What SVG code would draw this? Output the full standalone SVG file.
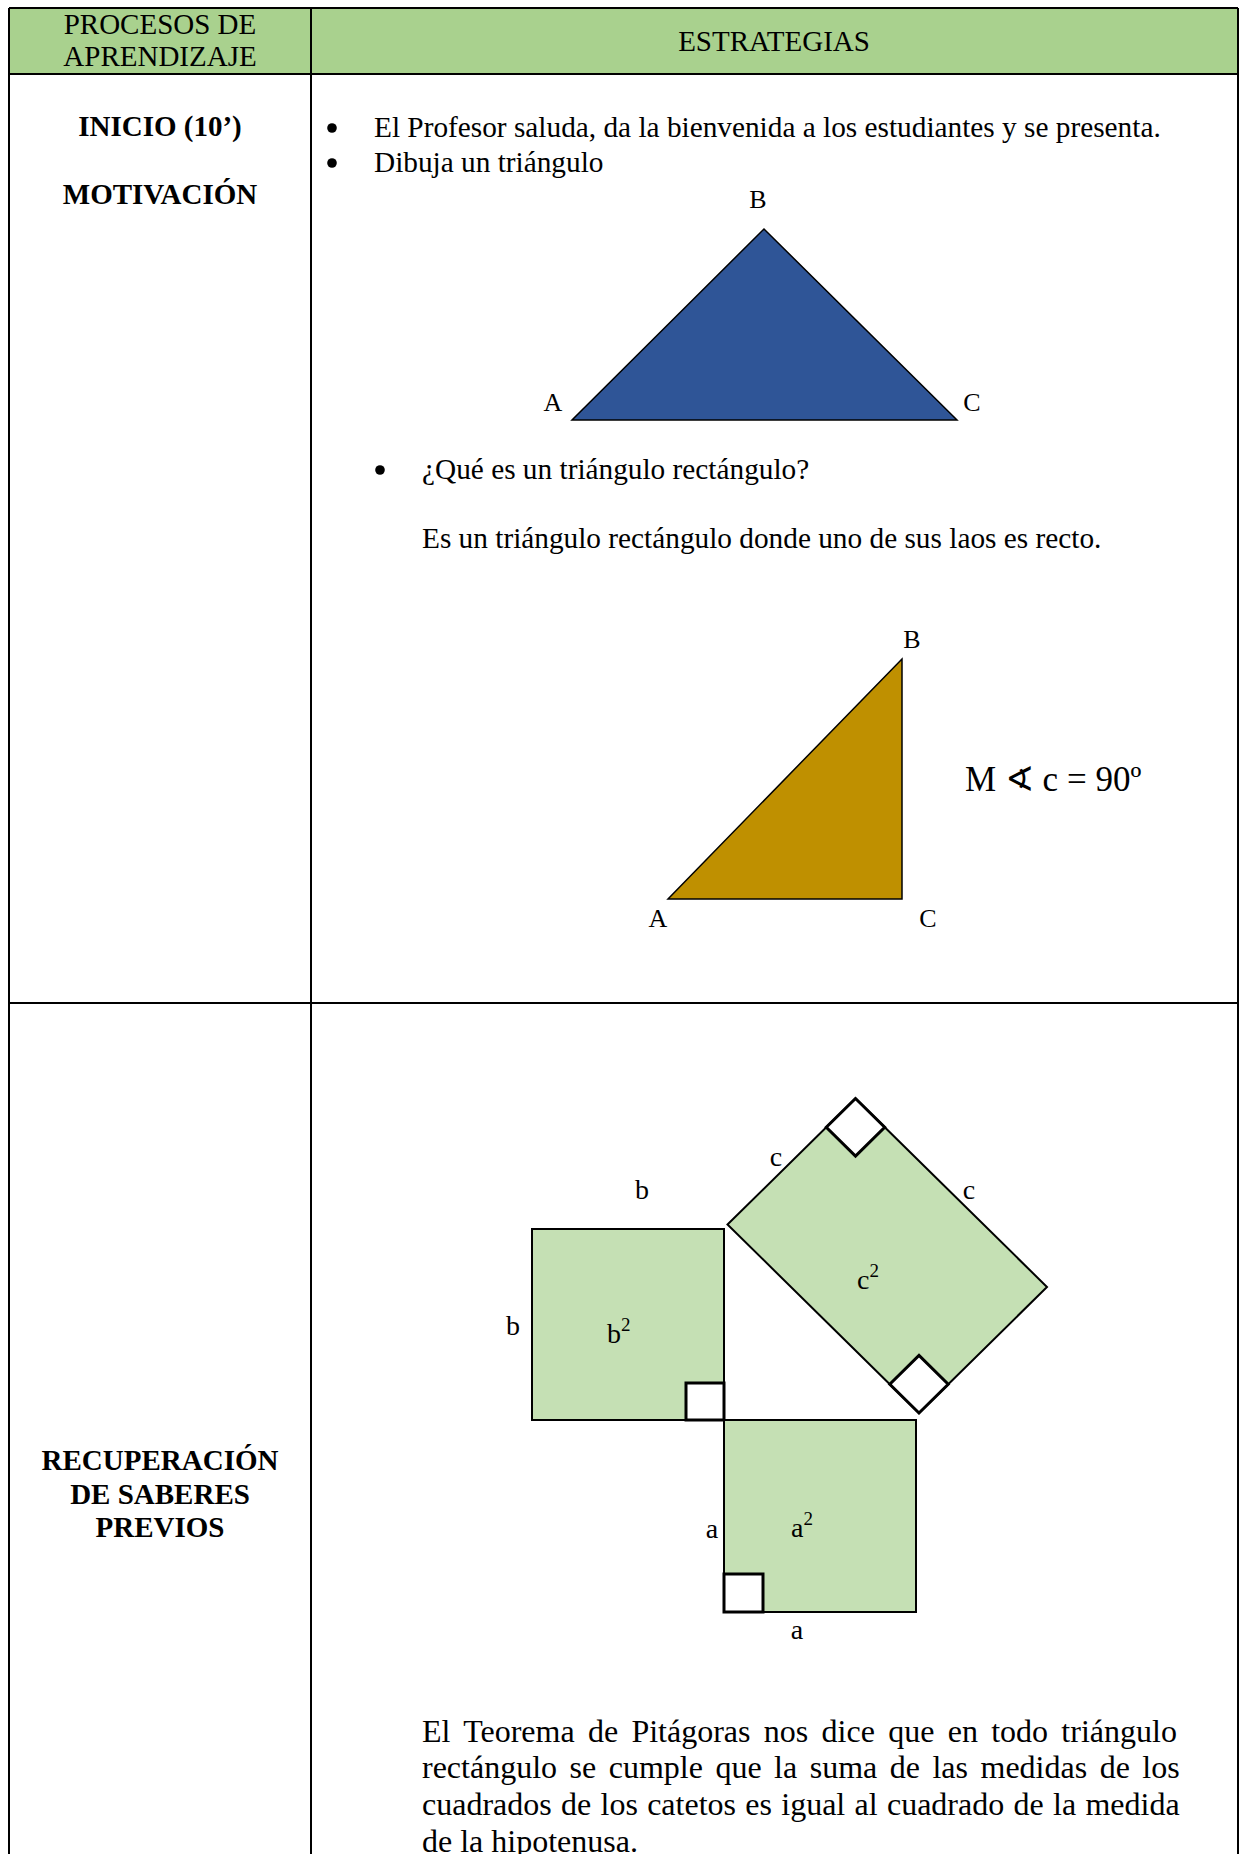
<svg xmlns="http://www.w3.org/2000/svg" width="1244" height="1854" viewBox="0 0 1244 1854">
<style>
text{font-family:"Liberation Serif","Times New Roman","DejaVu Serif",serif;fill:#000}
.h{font-size:29px}
.b{font-size:29px;font-weight:bold}
.t{font-size:29.3px}
.p{font-size:32px}
.lbl{font-size:26px}
.fl{font-size:28px}
.sup{font-size:19px}
.c{text-anchor:middle}
.grid{stroke:#000;stroke-width:2;fill:none}
.sq{fill:#C5E0B4;stroke:#000;stroke-width:2}
.mk{fill:#fff;stroke:#000;stroke-width:3}
.dot{fill:#000}
</style>
<rect x="0" y="0" width="1244" height="1854" fill="#fff"/>
<g id="table">
  <rect x="9" y="8" width="1229" height="66" fill="#A9D18E"/>
  <line class="grid" x1="9" y1="8" x2="1238" y2="8"/>
  <line class="grid" x1="9" y1="74" x2="1238" y2="74"/>
  <line class="grid" x1="9" y1="8" x2="9" y2="1854"/>
  <line class="grid" x1="1238" y1="8" x2="1238" y2="1854"/>
  <line class="grid" x1="311" y1="8" x2="311" y2="1854"/>
  <line class="grid" x1="9" y1="1003" x2="1238" y2="1003" stroke-width="3"/>
</g>
<g id="header">
  <text class="h c" x="160" y="34">PROCESOS DE</text>
  <text class="h c" x="160" y="66">APRENDIZAJE</text>
  <text class="h c" x="774" y="51">ESTRATEGIAS</text>
</g>
<g id="row-inicio-label">
  <text class="b c" x="160" y="136">INICIO (10’)</text>
  <text class="b c" x="160" y="204">MOTIVACIÓN</text>
</g>
<g id="row-inicio-content">
  <circle class="dot" cx="332" cy="128" r="4.8"/>
  <text class="t" x="374" y="137">El Profesor saluda, da la bienvenida a los estudiantes y se presenta.</text>
  <circle class="dot" cx="332" cy="163" r="4.8"/>
  <text class="t" x="374" y="172">Dibuja un triángulo</text>
</g>
<g id="blue-triangle">
  <polygon points="764,229 572,420 957,420" fill="#2F5597" stroke="#000" stroke-width="1.5"/>
  <text class="lbl c" x="758" y="208">B</text>
  <text class="lbl c" x="553" y="411">A</text>
  <text class="lbl c" x="972" y="411">C</text>
</g>
<g id="question">
  <circle class="dot" cx="380" cy="470" r="4.8"/>
  <text class="t" x="422" y="479">¿Qué es un triángulo rectángulo?</text>
  <text class="t" x="422" y="548">Es un triángulo rectángulo donde uno de sus laos es recto.</text>
</g>
<g id="gold-triangle">
  <polygon points="902,659 668,899 902,899" fill="#BF9000" stroke="#000" stroke-width="1.5"/>
  <text class="lbl c" x="912" y="648">B</text>
  <text class="lbl c" x="658" y="927">A</text>
  <text class="lbl c" x="928" y="927">C</text>
  <text x="965" y="791" style="font-size:35px">M ∢ c = 90º</text>
</g>
<g id="row-recuperacion-label">
  <text class="b c" x="160" y="1470">RECUPERACIÓN</text>
  <text class="b c" x="160" y="1504">DE SABERES</text>
  <text class="b c" x="160" y="1537">PREVIOS</text>
</g>
<g id="square-b">
  <rect class="sq" x="532" y="1229" width="192" height="191"/>
  <rect class="mk" x="686" y="1383" width="38" height="37"/>
  <text class="fl c" x="642" y="1199">b</text>
  <text class="fl c" x="513" y="1335">b</text>
  <text class="fl" x="607" y="1343">b<tspan class="sup" dy="-12">2</tspan></text>
</g>
<g id="square-a">
  <rect class="sq" x="724" y="1420" width="192" height="192"/>
  <rect class="mk" x="724" y="1574" width="39" height="38"/>
  <text class="fl c" x="712" y="1538">a</text>
  <text class="fl" x="791" y="1537">a<tspan class="sup" dy="-12">2</tspan></text>
  <text class="fl c" x="797" y="1639">a</text>
</g>
<g id="square-c">
  <polygon class="sq" points="727.5,1224.5 855.5,1098.5 1047,1287 919,1413" stroke-width="1.8"/>
  <polygon class="mk" points="855.5,1098.5 826.3,1127.3 855.5,1156.1 884.7,1127.3"/>
  <polygon class="mk" points="919,1413 889.8,1384.2 919,1355.4 948.2,1384.2"/>
  <text class="fl c" x="776" y="1166">c</text>
  <text class="fl c" x="969" y="1199">c</text>
  <text class="fl" x="857" y="1289">c<tspan class="sup" dy="-12">2</tspan></text>
</g>
<g id="pitagoras-text">
  <text class="p" x="422" y="1742" word-spacing="5.3">El Teorema de Pitágoras nos dice que en todo triángulo</text>
  <text class="p" x="422" y="1778" word-spacing="4.5">rectángulo se cumple que la suma de las medidas de los</text>
  <text class="p" x="422" y="1815" word-spacing="1.3">cuadrados de los catetos es igual al cuadrado de la medida</text>
  <text class="p" x="422" y="1852">de la hipotenusa.</text>
</g>
</svg>
